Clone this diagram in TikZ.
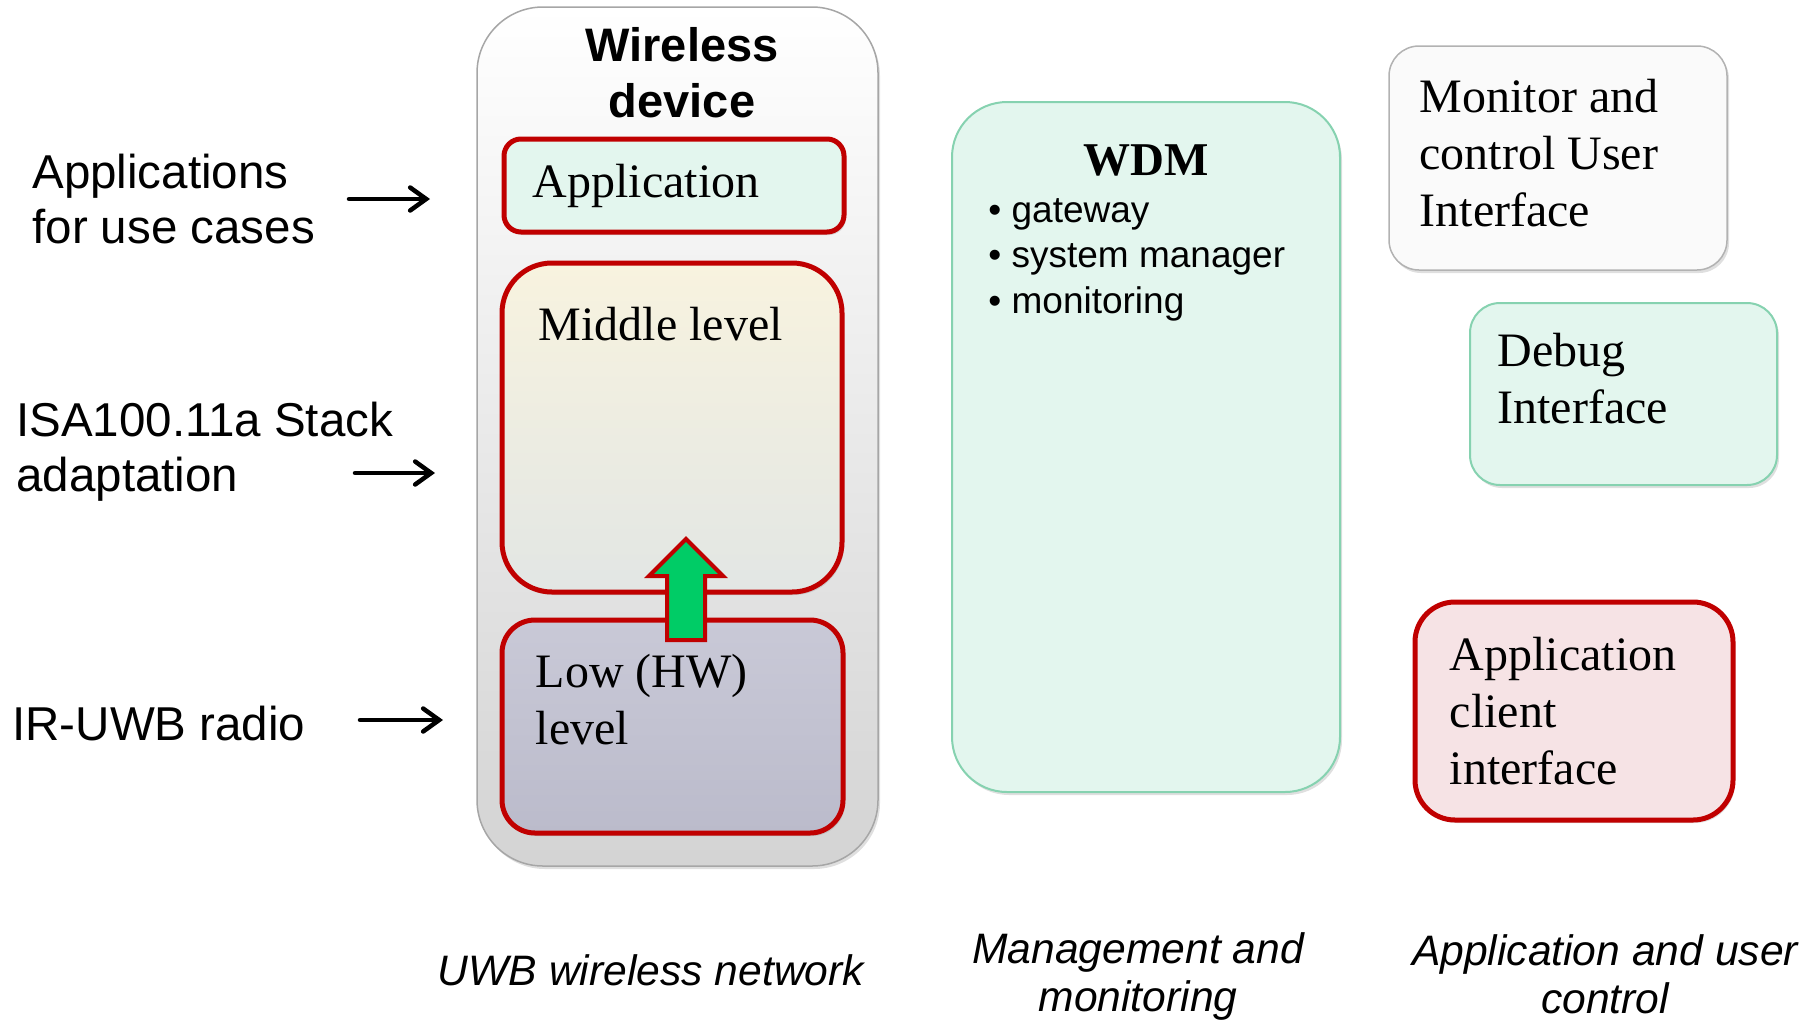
\documentclass[tikz,border=0pt]{standalone}
\usepackage{fontspec}
\setmainfont{Liberation Serif}
\setsansfont{Liberation Sans}
\usetikzlibrary{positioning,shadows,arrows.meta}

\definecolor{wred}{HTML}{C00000}
\definecolor{mint}{HTML}{E3F6EE}
\definecolor{mintedge}{HTML}{86D2B0}
\definecolor{cream}{HTML}{F8F3DF}
\definecolor{fog}{HTML}{E2E6E4}
\definecolor{lilac}{HTML}{C9C9D7}
\definecolor{lilacdk}{HTML}{BBBBCB}
\definecolor{blush}{HTML}{F6E3E5}
\definecolor{liftgreen}{HTML}{00CC66}

\begin{document}
\begin{tikzpicture}[x=0.5pt,y=-0.5pt,
    box/.style={rectangle,inner sep=0pt,drop shadow={opacity=0.25,shadow xshift=1pt,shadow yshift=-1.5pt}},
    layer/.style={box,draw=wred,line width=2.5pt},
    panel/.style={box,fill=mint,draw=mintedge,line width=1pt},
    serif/.style={inner sep=0pt,align=left,font=\fontsize{24}{28.5}\selectfont},
    sans/.style={inner sep=0pt,align=left,font=\sffamily\fontsize{23.75}{27.5}\selectfont},
    caption/.style={inner sep=0pt,align=center,font=\sffamily\itshape\fontsize{21.3}{24}\selectfont},
    pointer/.style={-{Straight Barb[length=8pt,width=11.5pt,line cap=round]},line width=2.25pt,line cap=round}]
    \useasboundingbox (0,0) rectangle (1813,1023);

    % the device stack
    \node[box,draw=black!35,line width=0.75pt,top color=white,bottom color=black!17,
          rounded corners=33pt,minimum width=200.5pt,minimum height=429.5pt] (dev) at (677.5,436.5) {};
    \node[inner sep=0pt,align=center,font=\sffamily\bfseries\fontsize{23.5}{28}\selectfont,
          below=10.5pt of dev.north,xshift=2.25pt] (devname) {Wireless\\device};

    \node[layer,fill=mint,rounded corners=8.5pt,minimum width=170pt,minimum height=46.5pt] (app) at (674,185.5) {};
    \node[serif,below right=13.5pt and 15.5pt of app.north west] (appname) {Application};

    \node[layer,top color=cream,bottom color=fog,rounded corners=25pt,
          minimum width=170pt,minimum height=164.5pt] (mid) at (672,427.5) {};
    \node[serif,below right=23pt and 19.5pt of mid.north west] (midname) {Middle level};

    \node[layer,top color=lilac,bottom color=lilacdk,rounded corners=16.5pt,
          minimum width=170.5pt,minimum height=106.5pt] (low) at (672.5,726.5) {};
    \node[serif,below right=18pt and 18pt of low.north west] (lowname) {Low (HW)\\level};

    \filldraw[fill=liftgreen,draw=wred,line width=2pt]
        (686,539) -- (723,576) -- (705,576) -- (705,640) -- (667,640) -- (667,576) -- (649,576) -- cycle;

    % management
    \node[panel,rounded corners=27.5pt,minimum width=194pt,minimum height=345pt] (wdm) at (1146,447) {};
    \node[inner sep=0pt,font=\bfseries\fontsize{23.5}{28}\selectfont,below=21.5pt of wdm.north] (wdmname) {WDM};
    \node[sans,font=\sffamily\fontsize{18.5}{22.75}\selectfont,below right=48.5pt and 18.5pt of wdm.north west] (wdmlist)
        {\textbullet\ gateway\\\textbullet\ system manager\\\textbullet\ monitoring};

    % user side
    \node[box,fill=black!2,draw=black!30,line width=0.75pt,rounded corners=15pt,
          minimum width=169pt,minimum height=112pt] (mon) at (1558,158) {};
    \node[serif,below right=17pt and 15.5pt of mon.north west] (monname) {Monitor and\\control User\\Interface};

    \node[panel,rounded corners=15pt,minimum width=153.5pt,minimum height=91pt] (dbg) at (1623.5,394) {};
    \node[serif,below right=15.5pt and 14pt of dbg.north west] (dbgname) {Debug\\Interface};

    \node[layer,fill=blush,rounded corners=20pt,minimum width=159pt,minimum height=109pt] (cli) at (1574,711) {};
    \node[serif,below right=18.5pt and 18.5pt of cli.north west] (cliname) {Application\\client\\interface};

    % what each level is
    \node[sans,anchor=north west] (usecases) at (32,154) {Applications\\for use cases};
    \node[sans,anchor=north west] (stack) at (16,402) {ISA100.11a Stack\\adaptation};
    \node[sans,anchor=base west] (radio) at (12,740) {IR-UWB radio};

    \coordinate (t1) at (349,199); \coordinate (h1) at (430,199);
    \coordinate (t2) at (355,473); \coordinate (h2) at (435,473);
    \coordinate (t3) at (360,720); \coordinate (h3) at (443,720);
    \path[pointer] (t1) edge (h1)
                   (t2) edge (h2)
                   (t3) edge (h3);

    \node[caption,anchor=base] (netcap) at (651,985) {UWB wireless network};
    \node[caption,anchor=north] (mgmtcap) at (1138,932) {Management and\\monitoring};
    \node[caption,anchor=north] (ctrlcap) at (1605,934) {Application and user\\control};
\end{tikzpicture}
\end{document}
